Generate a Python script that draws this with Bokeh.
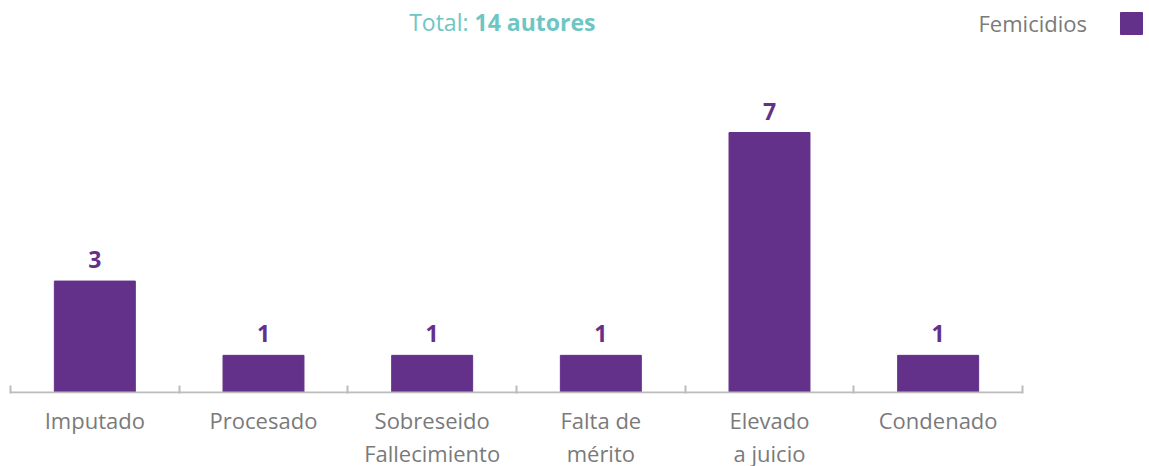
from bokeh.plotting import figure
from bokeh.models import Range1d, FixedTicker
from bokeh.core.properties import value
from bokeh.embed import file_html
from bokeh.resources import INLINE

# ---- data ----
categories = ["Imputado", "Procesado", "Sobreseido\nFallecimiento", "Falta de\nmérito", "Elevado\na juicio", "Condenado"]
values = [3, 1, 1, 1, 7, 1]
series_name = "Femicidios"
total_label = "Total:"
total_value = "14 autores"

# ---- style ----
PURPLE = "#64318a"
TEAL = "#6ec6c4"
GRAY_TXT = "#7a7a7a"
AXIS_GRAY = "#bcbcbc"
FONT = "Open Sans"

n = len(categories)
FW, FH = 1149, 393
cat_px = 1012 / n            # pixel width of one category
left_px = 10                 # offset of first category boundary
ypx = 260 / 7                # pixels per unit
y0 = -1 / ypx
x_range = Range1d(-left_px / cat_px, (FW - left_px) / cat_px)
y_range = Range1d(y0, y0 + FH / ypx)

def px_x(px):  # figure pixel -> data x
    return (px - left_px) / cat_px

def px_y(py):  # figure pixel (from top) -> data y
    return y0 + (FH - py) / ypx

p = figure(frame_width=FW, frame_height=FH, x_range=x_range, y_range=y_range,
           output_backend="svg", toolbar_location=None, min_border=0,
           background_fill_color="white", border_fill_color="white")
p.outline_line_color = None
p.grid.visible = False
p.yaxis.visible = False

xs = [i + 0.5 for i in range(n)]
p.vbar(x=xs, top=values, width=0.48, bottom=0, color=PURPLE)
p.text(x=xs, y=values, text=[str(v) for v in values], text_align="center",
       text_baseline="bottom", y_offset=-13, text_color=PURPLE,
       text_font=value(FONT), text_font_style="bold", text_font_size="23px")

# baseline
p.segment(x0=[0], x1=[n], y0=[0], y1=[0], line_color=AXIS_GRAY, line_width=2)

ax = p.xaxis[0]
ax.ticker = FixedTicker(ticks=xs, minor_ticks=list(range(n + 1)))
ax.major_label_overrides = {x: c for x, c in zip(xs, categories)}
ax.axis_line_color = None
ax.major_tick_in = 0
ax.major_tick_out = 0
ax.minor_tick_in = 8
ax.minor_tick_out = 0
ax.minor_tick_line_color = AXIS_GRAY
ax.minor_tick_line_width = 2
ax.major_label_text_font = FONT
ax.major_label_text_font_size = "22px"
ax.major_label_text_color = GRAY_TXT
ax.major_label_text_line_height = 1.1
ax.major_label_standoff = 11

# title
p.text(x=[px_x(468)], y=[px_y(21)], text=[total_label], text_align="right",
       text_baseline="middle", text_color=TEAL, text_font=value(FONT),
       text_font_size="23px")
p.text(x=[px_x(474)], y=[px_y(21)], text=[total_value], text_align="left",
       text_baseline="middle", text_color=TEAL, text_font=value(FONT),
       text_font_style="bold", text_font_size="23px")

# legend
p.text(x=[px_x(978)], y=[px_y(22)], text=[series_name], text_align="left",
       text_baseline="middle", text_color=GRAY_TXT, text_font=value(FONT),
       text_font_size="22px")
p.scatter(x=[px_x(1131)], y=[px_y(23)], marker="square", size=22, color=PURPLE)

open("out.html", "w").write(file_html(p, INLINE))
